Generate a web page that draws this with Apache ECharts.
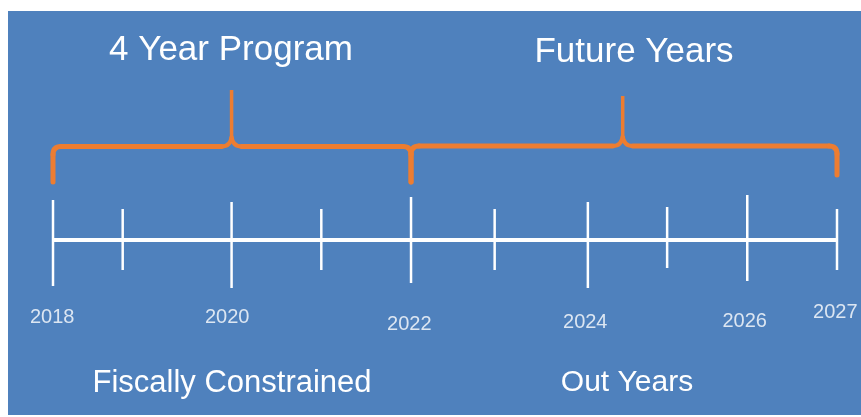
<!DOCTYPE html>
<html><head><meta charset="utf-8">
<script src="https://cdn.jsdelivr.net/npm/echarts@6/dist/echarts.min.js"></script>
<style>html,body{margin:0;padding:0;background:#fff;}#c{width:861px;height:417px;}</style>
</head><body><div id="c"></div>
<script>
// ---- data (x in years, y in vertical units, 0 = timeline) ----
const timelineSpan = [2018, 2027];
const tickYears   = [2018, 2018.80, 2020.05, 2021.08, 2022.11, 2023.07, 2024.14, 2025.05, 2025.97, 2027];
const tickTops    = [40, 31, 38, 31, 43, 31, 38, 33, 45, 31];
const tickBottoms = [-46, -30, -48, -30, -43, -30, -48, -28, -41, -30];
const yearLabels  = ['2018', '2020', '2022', '2024', '2026', '2027'];
const yearLabelX  = [2017.99, 2020.0, 2022.09, 2024.11, 2025.94, 2026.98];
const yearLabelY  = [-77, -77, -84, -82, -81, -72];
const braceNames     = ['4 Year Program', 'Future Years'];
const braceStart     = [2018, 2022.11];
const bracePeak      = [2020.05, 2024.54];
const braceEnd       = [2022.11, 2027];
const braceLevel     = [93.5, 94];
const bracePeakTop   = [150, 144];
const braceStartFoot = [58, 58];
const braceEndFoot   = [58, 65];
const phaseNames     = ['Fiscally Constrained', 'Out Years'];

const BLUE = '#4F81BD', ORANGE = '#ED7D31', WHITE = '#FFFFFF';
const FONT = '"Liberation Sans", Arial, sans-serif';

const chart = echarts.init(document.getElementById('c'), null, {renderer: 'canvas'});

const tickData = tickYears.map((x, i) => [x, tickTops[i], tickBottoms[i]]);
const braceData = braceStart.map((s, i) => [s, bracePeak[i], braceEnd[i], braceLevel[i], bracePeakTop[i], braceStartFoot[i], braceEndFoot[i]]);
const labelData = yearLabels.map((t, i) => ({name: t, value: [yearLabelX[i], yearLabelY[i]]}));

function txt(text, x, y, size) {
  return {type: 'text', x: x, y: y, z: 100,
    style: {text: text, fill: WHITE, font: size + 'px ' + FONT,
      align: 'center', verticalAlign: 'middle', textAlign: 'center', textVerticalAlign: 'middle'}};
}

chart.setOption({
  animation: false,
  backgroundColor: '#FFFFFF',
  grid: {left: 8, top: 11, right: 0, bottom: 2, show: true, backgroundColor: BLUE, borderWidth: 0},
  xAxis: {type: 'value', min: 2017.4834, max: 2027.2755, show: false},
  yAxis: {type: 'value', min: -175, max: 229, show: false},
  graphic: [
    txt(braceNames[0], 231, 50, 35),
    txt(braceNames[1], 634, 52, 35),
    txt(phaseNames[0], 232, 383, 31),
    txt(phaseNames[1], 627, 383, 30)
  ],
  series: [
    {
      type: 'line', data: [[timelineSpan[0], 0], [timelineSpan[1], 0]],
      symbol: 'none', lineStyle: {color: WHITE, width: 4}, z: 2, silent: true
    },
    {
      type: 'custom', data: tickData, z: 3, silent: true,
      encode: {x: 0, y: [1, 2]},
      renderItem: function (params, api) {
        const t = api.coord([api.value(0), api.value(1)]);
        const b = api.coord([api.value(0), api.value(2)]);
        return {type: 'line', shape: {x1: t[0], y1: t[1], x2: b[0], y2: b[1]},
          style: {stroke: WHITE, lineWidth: 2.5}};
      }
    },
    {
      type: 'custom', data: braceData, z: 4, silent: true,
      encode: {x: [0, 1, 2], y: [3, 4, 5, 6]},
      renderItem: function (params, api) {
        const v = i => api.value(i);
        const s = api.coord([v(0), v(3)]), sF = api.coord([v(0), v(5)]);
        const pk = api.coord([v(1), v(3)]), pT = api.coord([v(1), v(4)]);
        const e = api.coord([v(2), v(3)]), eF = api.coord([v(2), v(6)]);
        const r = 8, c = 10;
        const st = {stroke: ORANGE, lineWidth: 5, fill: null, lineCap: 'round'};
        const stThin = {stroke: ORANGE, lineWidth: 3.5, fill: null, lineCap: 'butt'};
        const L = (x1, y1, x2, y2, style) => ({type: 'line', shape: {x1, y1, x2, y2}, style: style || st});
        const Q = (x1, y1, cx, cy, x2, y2, style) => ({type: 'bezierCurve', shape: {x1, y1, cpx1: cx, cpy1: cy, x2, y2}, style: style || st});
        return {type: 'group', children: [
          L(sF[0], sF[1], s[0], s[1] + r),
          Q(s[0], s[1] + r, s[0], s[1], s[0] + r, s[1]),
          L(s[0] + r, s[1], pk[0] - c, pk[1]),
          Q(pk[0] - c, pk[1], pk[0] - 1, pk[1], pk[0], pk[1] - c, {stroke: ORANGE, lineWidth: 4, fill: null}),
          Q(pk[0] + c, pk[1], pk[0] + 1, pk[1], pk[0], pk[1] - c, {stroke: ORANGE, lineWidth: 4, fill: null}),
          L(pk[0], pk[1] - c + 1, pT[0], pT[1], stThin),
          L(pk[0] + c, pk[1], e[0] - r, e[1]),
          Q(e[0] - r, e[1], e[0], e[1], e[0], e[1] + r),
          L(e[0], e[1] + r, eF[0], eF[1])
        ]};
      }
    },
    {
      type: 'scatter', data: labelData, symbolSize: 1, z: 5, silent: true,
      itemStyle: {color: 'rgba(0,0,0,0)'},
      label: {show: true, position: 'inside', formatter: '{b}', color: WHITE,
        fontSize: 20, fontFamily: FONT}
    }
  ]
});
</script>
</body></html>
